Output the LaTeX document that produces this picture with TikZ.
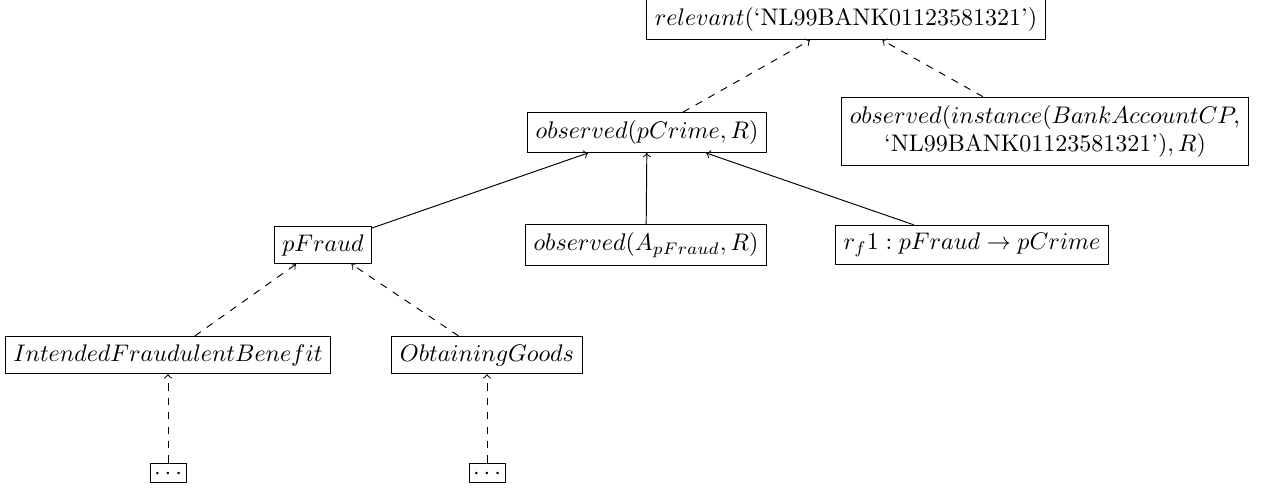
\documentclass[tikz,border=0pt]{standalone}
\usepackage{amsmath}
\begin{document}
\begin{tikzpicture}[x=0.41667pt,y=-0.41667pt,
  box/.style={draw,inner sep=3.33pt,align=center},
  dotsbox/.style={draw,inner sep=0pt,minimum width=15pt,minimum height=8.3pt,
    text height=0pt,text depth=0pt},
  support/.style={->,dashed},
  rulelink/.style={->}]
\useasboundingbox (0,0) rectangle (1265,488);

% top: relevance of the account number
\node[box] (rel) at (846,19.8) {$relevant($`NL99BANK01123581321'$)$};

% level 1
\node[box] (obsC) at (647,132.5) {$observed(pCrime,R)$};
\node[box] (obsI) at (1045,131.5) {$observed(instance(BankAccountCP,$\\`NL99BANK01123581321'$),R)$};

% level 2
\node[box] (pF) at (323,245) {$pFraud$};
\node[box] (obsA) at (646,245) {$observed(A_{pFraud},R)$};
\node[box] (rf) at (972,245) {$r_f1: pFraud \rightarrow pCrime$};

% level 3
\node[box] (ifb) at (168,355) {$IntendedFraudulentBenefit$};
\node[box] (og) at (487,355) {$ObtainingGoods$};

% level 4: elided sub-trees
\node[dotsbox] (d1) at (168,473) {\raisebox{-2.5pt}{$\cdotp\cdotp\cdotp$}};
\node[dotsbox] (d2) at (487,473) {\raisebox{-2.5pt}{$\cdotp\cdotp\cdotp$}};

% connectors
\draw[support] (obsC) -- (rel);
\draw[support] (obsI) -- (rel);
\draw[rulelink] (pF) -- (obsC);
\draw[rulelink] (obsA) -- (obsC);
\draw[rulelink] (rf) -- (obsC);
\draw[support] (ifb) -- (pF);
\draw[support] (og) -- (pF);
\draw[support] (d1) -- (ifb);
\draw[support] (d2) -- (og);
\end{tikzpicture}
\end{document}
